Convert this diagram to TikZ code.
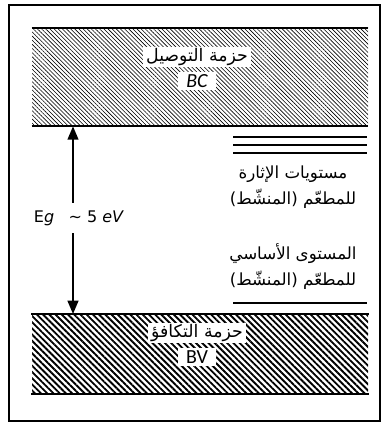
\documentclass[tikz,border=0pt]{standalone}
\usepackage{fontspec}
\setmainfont{DejaVu Sans}
\newfontfamily\arabicfont[Script=Arabic]{DejaVu Sans}
\newfontfamily\symfont{Carlito}
\TeXXeTstate=1
\usetikzlibrary{positioning,arrows.meta,patterns.meta}
\newcommand{\artxt}[1]{{\arabicfont\beginR #1\endR}}

\begin{document}
\begin{tikzpicture}[x=0.75pt, y=-0.75pt, >={Triangle[length=10pt,width=8pt]},
        band/.style={rectangle, minimum width=252pt, inner sep=0pt},
        bandname/.style={fill=white, inner xsep=2pt, inner ysep=1pt, font=\fontsize{13}{15}\selectfont},
        bandsym/.style={fill=white, inner xsep=6pt, inner ysep=2pt, font=\symfont\fontsize{15}{17}\selectfont},
        level/.style={line width=1.5pt},
        levelname/.style={align=center, inner sep=0pt, font=\fontsize{12.5}{19.5}\selectfont}]

    \useasboundingbox (0,0) rectangle (382,427);
    \draw[line width=1.5pt] (9,5) rectangle (380,421);

    \node[band, minimum height=73.5pt, pattern={Lines[angle=-45,distance=2.2pt,line width=0.45pt]}] (bc) at (200,77) {};
    \node[band, minimum height=58.5pt, pattern={Lines[angle=-45,distance=3.3pt,line width=1.4pt]}] (bv) at (200,354) {};
    \draw[level] (bc.north west) -- (bc.north east) (bc.south west) -- (bc.south east);
    \draw[level] (bv.north west) -- (bv.north east) (bv.south west) -- (bv.south east);

    \node[bandname] (bcname) at (197,57) {\artxt{حزمة التوصيل}};
    \node[bandsym, below=3pt of bcname] (bcsym) {\itshape BC};
    \node[bandname] (bvname) at (197,333) {\artxt{حزمة التكافؤ}};
    \node[bandsym, below=3pt of bvname] (bvsym) {BV};

    \foreach \y in {137,145,153}
        \draw[level] (233,\y) -- (367,\y);
    \draw[level] (233,303) -- (367,303);

    \node[levelname] (excit) at (293,187) {\artxt{مستويات الإثارة}\\\artxt{للمطعّم (المنشّط)}};
    \node[levelname] (ground) at (293,267) {\artxt{المستوى الأساسي}\\\artxt{للمطعّم (المنشّط)}};

    \coordinate (ax) at (73,0);
    \node[font=\fontsize{12}{14}\selectfont, minimum height=22.5pt] (eg) at (79,218) {E\textit{g}\hspace{0.9em}\textasciitilde\ 5 \textit{eV}};
    \draw[->, line width=1.5pt] (eg.north -| ax) -- (bc.south -| ax);
    \draw[->, line width=1.5pt] (eg.south -| ax) -- (bv.north -| ax);
\end{tikzpicture}
\end{document}
